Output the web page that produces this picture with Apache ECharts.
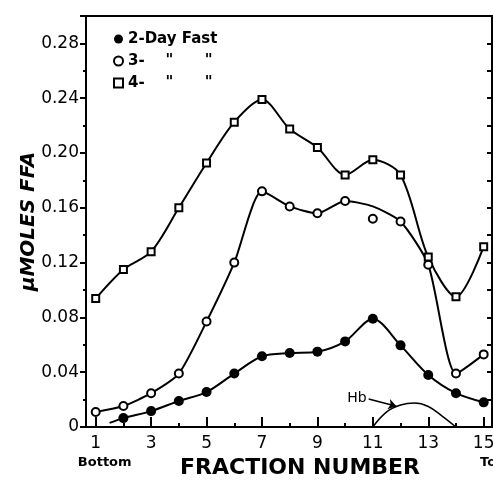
<!DOCTYPE html>
<html>
<head>
<meta charset="utf-8">
<script src="https://cdn.jsdelivr.net/npm/echarts@6/dist/echarts.min.js"></script>
<style>
    html, body {margin: 0; padding: 0; background: #fff;}
    #chart {width: 493px; height: 490px;}
</style>
</head>
<body>
<div id="chart"></div>
<script>
//fraction numbers
var fractions = [1, 2, 3, 4, 5, 6, 7, 8, 9, 10, 11, 12, 13, 14, 15];
//measured points, umoles FFA
var fast2 = [null, 0.0065, 0.0116, 0.019, 0.0255, 0.039, 0.0516, 0.054, 0.055, 0.0625, 0.079, 0.0596, 0.038, 0.0247, 0.018];
var fast3 = [0.011, 0.0153, 0.0247, 0.039, 0.077, 0.12, 0.172, 0.161, 0.156, 0.165, 0.152, 0.150, 0.1185, 0.039, 0.053];
var fast4 = [0.0938, 0.115, 0.128, 0.16, 0.1927, 0.2225, 0.239, 0.2175, 0.204, 0.184, 0.195, 0.184, 0.124, 0.095, 0.1316];
//drawn curves (3-day curve passes above the point at 11)
var fast2Start = [1.5, 0.003];
var fast3Curve = [0.011, 0.0153, 0.0247, 0.039, 0.077, 0.12, 0.172, 0.161, 0.156, 0.165, 0.161, 0.150, 0.1185, 0.039, 0.053];
//Hb band
var hbX = [11, 11.5, 12, 12.5, 13, 13.5, 14];
var hbY = [0, 0.011, 0.016, 0.0175, 0.015, 0.008, 0];
var hbArrow = [[10.85, 0.0205], [11.85, 0.0152]];
//tick labels
var xLabelValues = [1, 3, 5, 7, 9, 11, 13, 15];
var xMinorValues = [2, 4, 6, 8, 10, 12, 14];
var names = ['2-Day Fast', '3-    "      "', '4-    "      "'];

var font = 'DejaVu Sans';
var gridTop = 16, gridBottom = 63, gridH = 490 - gridTop - gridBottom;

function pairs(xs, ys) {
    var out = [];
    for (var i = 0; i < xs.length; i++) {
        if (ys[i] !== null) out.push([xs[i], ys[i]]);
    }
    return out;
}

var curve2 = [fast2Start].concat(pairs(fractions, fast2));

var lineStyle = {color: '#000', width: 2};

var option = {
    animation: false,
    grid: {
        left: 86, right: 1, top: gridTop, bottom: gridBottom,
        outerBoundsMode: 'none', containLabel: false,
        show: true, borderColor: '#000', borderWidth: 2
    },
    legend: {
        orient: 'vertical',
        left: 108, top: 26,
        itemWidth: 9, itemHeight: 9, itemGap: 6,
        textStyle: {fontFamily: font, fontSize: 15, fontWeight: 'bold', color: '#000', lineHeight: 16},
        data: names
    },
    xAxis: [
        {
            type: 'value', position: 'bottom',
            min: 0.65, max: 15.3,
            splitLine: {show: false},
            axisLine: {show: false},
            axisTick: {inside: true, length: 10, lineStyle: {color: '#000', width: 2}, customValues: xLabelValues},
            axisLabel: {
                customValues: xLabelValues,
                margin: 8,
                fontFamily: font, fontSize: 17, color: '#000',
                formatter: function (v) {
                    if (v === 1) return '1\n{s|Bottom}';
                    if (v === 15) return '15\n{s|Top}';
                    return String(v);
                },
                rich: {s: {fontFamily: font, fontSize: 13, fontWeight: 'bold', color: '#000', lineHeight: 22, padding: [0, 0, 0, 18]}}
            },
            name: 'FRACTION NUMBER',
            nameLocation: 'middle',
            nameGap: 30,
            nameMoveOverlap: false,
            nameTextStyle: {fontFamily: font, fontSize: 22, fontWeight: 'bold', color: '#000', padding: [0, 0, 0, 22]}
        },
        {
            //minor ticks on bottom edge
            type: 'value', position: 'top', offset: -gridH,
            min: 0.65, max: 15.3,
            splitLine: {show: false},
            axisLine: {show: false},
            axisTick: {inside: false, length: 4, lineStyle: {color: '#000', width: 2}, customValues: xMinorValues},
            axisLabel: {show: false}
        }
    ],
    yAxis: [
        {
            type: 'value', position: 'left',
            min: 0, max: 0.3, interval: 0.04,
            splitLine: {show: false},
            axisLine: {show: false},
            axisTick: {length: 6, lineStyle: {color: '#000', width: 2}},
            minorTick: {show: true, splitNumber: 2, length: 3, lineStyle: {color: '#000', width: 2}},
            axisLabel: {
                showMaxLabel: false,
                margin: 7,
                fontFamily: font, fontSize: 17, color: '#000',
                formatter: function (v) {
                    return v === 0 ? '0' : v.toFixed(2);
                }
            },
            name: 'μMOLES FFA',
            nameLocation: 'middle',
            nameGap: 47,
            nameMoveOverlap: false,
            nameTextStyle: {fontFamily: font, fontSize: 20, fontWeight: 'bold', fontStyle: 'italic', color: '#000'}
        },
        {
            type: 'value', position: 'right',
            min: 0, max: 0.3, interval: 0.02,
            splitLine: {show: false},
            axisLine: {show: false},
            axisTick: {inside: true, length: 5, lineStyle: {color: '#000', width: 2}},
            axisLabel: {show: false}
        }
    ],
    series: [
        {type: 'line', smooth: 0.3, symbol: 'none', lineStyle: lineStyle, data: curve2, z: 2},
        {type: 'line', smooth: 0.22, symbol: 'none', lineStyle: lineStyle, data: pairs(fractions, fast3Curve), z: 2},
        {type: 'line', smooth: 0.3, symbol: 'none', lineStyle: lineStyle, data: pairs(fractions, fast4), z: 2},
        {
            type: 'line', smooth: 0.4, symbol: 'none', lineStyle: {color: '#000', width: 1.5},
            data: pairs(hbX, hbY), z: 2,
            markLine: {
                silent: true,
                symbolSize: 8,
                lineStyle: {color: '#000', width: 1.5, type: 'solid'},
                label: {show: true, position: 'start', formatter: 'Hb', fontFamily: font, fontSize: 14, color: '#000', distance: 2},
                data: [[
                    {coord: hbArrow[0], symbol: 'none'},
                    {coord: hbArrow[1], symbol: 'arrow'}
                ]]
            }
        },
        {
            name: names[0], type: 'scatter', symbol: 'circle', symbolSize: 10, z: 5,
            itemStyle: {color: '#000', opacity: 1},
            data: pairs(fractions, fast2)
        },
        {
            name: names[1], type: 'scatter', symbol: 'circle', symbolSize: 8, z: 5,
            itemStyle: {color: '#fff', borderColor: '#000', borderWidth: 2, opacity: 1},
            data: pairs(fractions, fast3)
        },
        {
            name: names[2], type: 'scatter', symbol: 'rect', symbolSize: 7, z: 5,
            itemStyle: {color: '#fff', borderColor: '#000', borderWidth: 2, opacity: 1},
            data: pairs(fractions, fast4)
        }
    ]
};

var myChart = echarts.init(document.getElementById('chart'));
myChart.setOption(option);
</script>
</body>
</html>
